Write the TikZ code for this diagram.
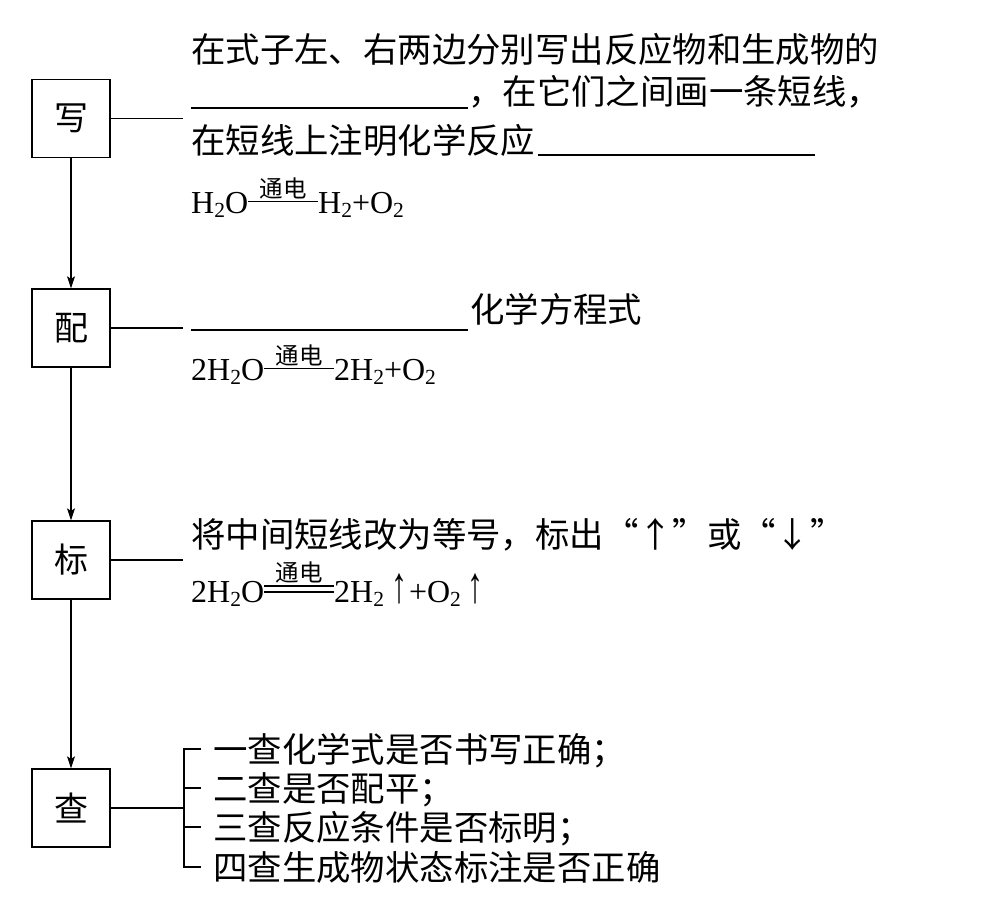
\documentclass[tikz,border=0pt]{standalone}
\usepackage{fontspec}
\usepackage{graphicx}
\setmainfont{Liberation Serif}
\newfontfamily\cjk{Noto Sans CJK SC}
\usetikzlibrary{arrows.meta}
\newcommand{\chsub}[1]{\raisebox{-4.5pt}{\fontsize{21.5}{21.5}\selectfont #1}}
\newcommand{\cond}{{\cjk\fontsize{23.5}{23.5}\selectfont 通电}}
\newcommand{\rxnS}{\makebox[0pt][l]{\raisebox{11pt}{\rule{70pt}{1.2pt}}}\makebox[70pt]{\raisebox{16pt}{\cond}}}
\newcommand{\rxnD}{\makebox[0pt][l]{\raisebox{9.5pt}{\rule{70pt}{1.2pt}}}\makebox[0pt][l]{\raisebox{15.5pt}{\rule{70pt}{1.2pt}}}\makebox[70pt]{\raisebox{21pt}{\cond}}}
\newcommand{\gas}{\hspace{7pt}\scalebox{1}[1.6]{↑}\hspace{2pt}}
\newcommand{\oq}{\makebox[1em][r]{“}}
\newcommand{\cq}{\makebox[1em][l]{”}}
\newcommand{\ca}[1]{\makebox[1em][c]{#1}}
\tikzset{
  stepbox/.style={draw, line width=1.3pt, minimum width=78pt, minimum height=78pt, inner sep=0pt, font=\cjk\fontsize{34}{34}\selectfont},
  txt/.style={anchor=base west, inner sep=0pt, font=\cjk\fontsize{34.4}{40}\selectfont},
  chem/.style={anchor=base west, inner sep=0pt, font=\fontsize{32}{36}\selectfont},
  conn/.style={line width=1.2pt},
  flow/.style={conn, -{Stealth[length=12pt,width=8pt,inset=2.5pt]}},
  blank/.style={line width=1.2pt}
}
\begin{document}
\begin{tikzpicture}[x=1pt,y=-1pt]
\useasboundingbox (0,0) rectangle (994,899);
\fill[white] (0,0) rectangle (994,899);

% boxes
\node[stepbox] (xie) at (71,118.5) {写};
\node[stepbox] (pei) at (71,328) {配};
\node[stepbox] (biao) at (71,560) {标};
\node[stepbox] (cha) at (71,808) {查};

\draw[flow] (xie) -- (pei);
\draw[flow] (pei) -- (biao);
\draw[flow] (biao) -- (cha);

% side connectors
\coordinate (xe) at (183,118.5);
\coordinate (pe) at (183,328);
\coordinate (be) at (183,560);
\coordinate (ce) at (184,808);
\draw[conn] (xie.east) -- (xe);
\draw[conn] (pei.east) -- (pe);
\draw[conn] (biao.east) -- (be);
\draw[conn] (cha.east) -- (ce);

% 写
\node[txt] (x1) at (191,63) {在式子左、右两边分别写出反应物和生成物的};
\coordinate (u1a) at (191,108);
\coordinate (u1b) at (468,108);
\draw[blank] (u1a) -- (u1b);
\node[txt] (x2) at (468,105) {，在它们之间画一条短线，};
\node[txt] (x3) at (191,153) {在短线上注明化学反应};
\coordinate (u2a) at (538,155);
\coordinate (u2b) at (815,155);
\draw[blank] (u2a) -- (u2b);
\node[chem] (x4) at (191,213) {H\chsub{2}O\rxnS{}H\chsub{2}+O\chsub{2}};

% 配
\coordinate (u3a) at (191,330);
\coordinate (u3b) at (468,330);
\draw[blank] (u3a) -- (u3b);
\node[txt] (p1) at (470,322) {化学方程式};
\node[chem] (p2) at (191,380) {2H\chsub{2}O\rxnS{}2H\chsub{2}+O\chsub{2}};

% 标
\node[txt] (b1) at (191,547) {将中间短线改为等号，标出\oq\ca{↑}\cq 或\oq\ca{↓}\cq};
\node[chem] (b2) at (191,602) {2H\chsub{2}O\rxnD{}2H\chsub{2}\gas{}+O\chsub{2}\gas};

% 查
\coordinate (t1) at (201,749);
\coordinate (t2) at (201,788);
\coordinate (t3) at (201,827);
\coordinate (t4) at (201,867);
\coordinate (k1) at (184,749);
\coordinate (k2) at (184,788);
\coordinate (k3) at (184,827);
\coordinate (k4) at (184,867);
\draw[conn] (t1) -- (k1) -- (k4) -- (t4);
\draw[conn] (k2) -- (t2);
\draw[conn] (k3) -- (t3);
\node[txt] (c1) at (213,762) {一查化学式是否书写正确；};
\node[txt] (c2) at (213,801) {二查是否配平；};
\node[txt] (c3) at (213,840) {三查反应条件是否标明；};
\node[txt] (c4) at (213,880) {四查生成物状态标注是否正确};
\end{tikzpicture}
\end{document}
